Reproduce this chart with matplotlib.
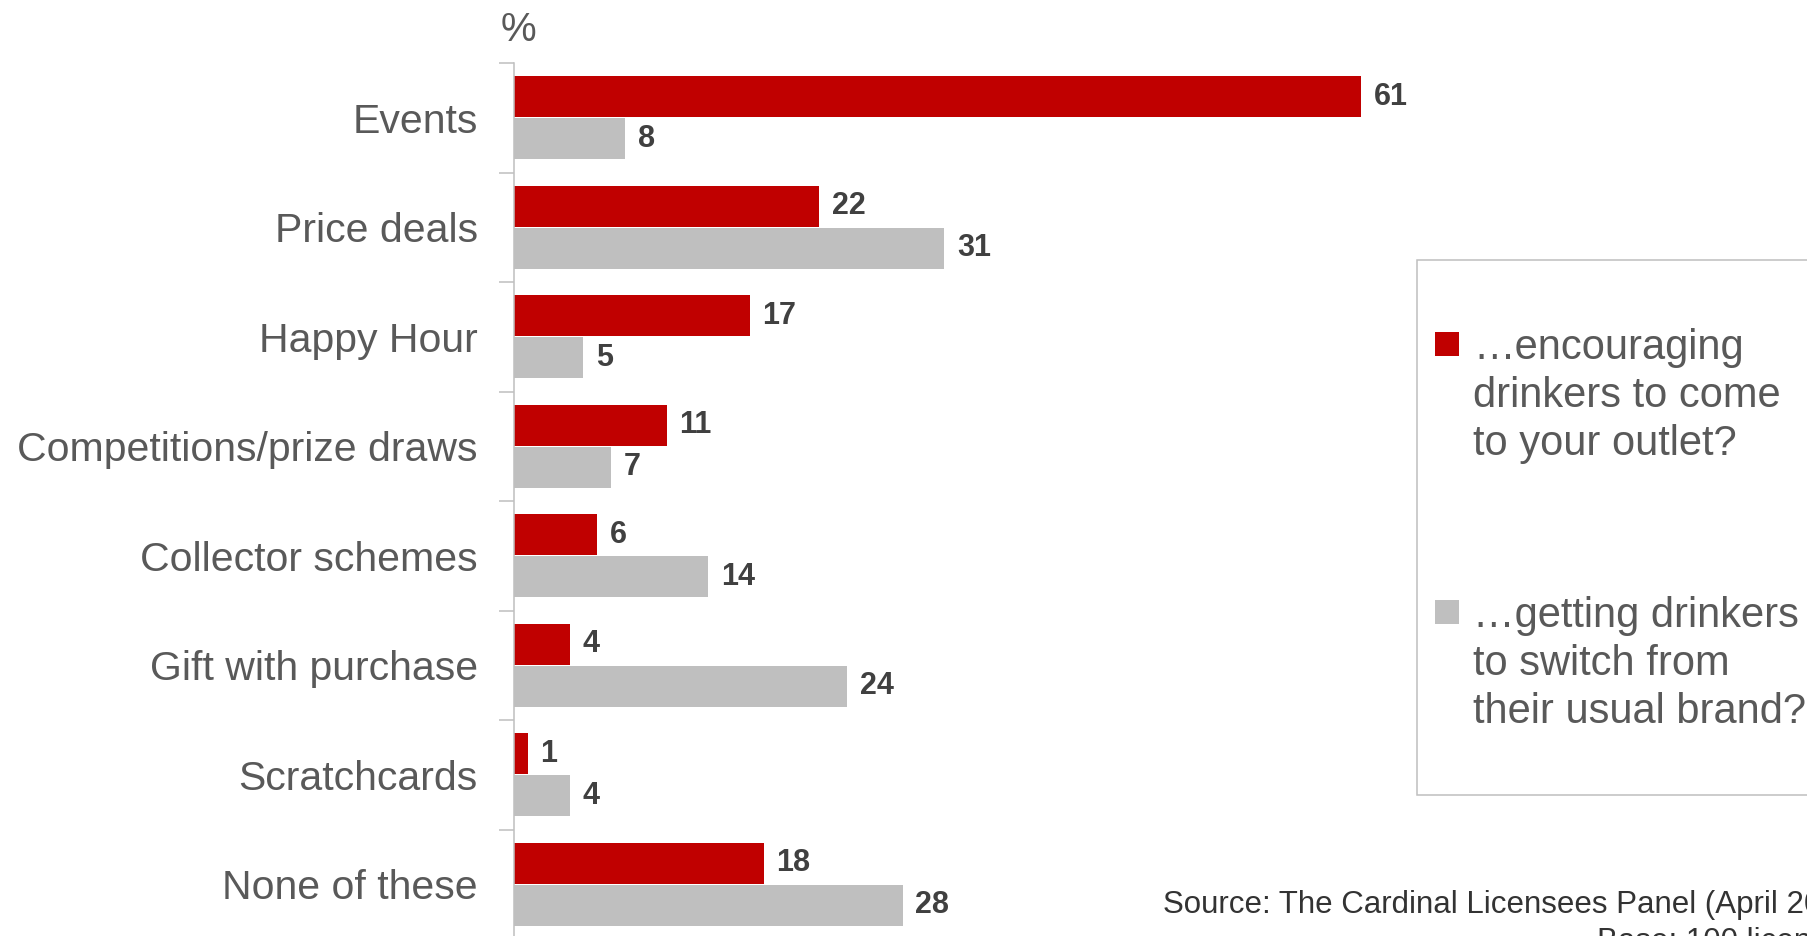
import matplotlib
matplotlib.use("Agg")
import matplotlib.pyplot as plt
from matplotlib.patches import Rectangle
import numpy as np

plt.rcParams['font.family'] = ['Liberation Sans', 'DejaVu Sans']

# data
categories = ["Events", "Price deals", "Happy Hour", "Competitions/prize draws",
              "Collector schemes", "Gift with purchase", "Scratchcards", "None of these"]
encouraging = [61, 22, 17, 11, 6, 4, 1, 18]
switching = [8, 31, 5, 7, 14, 24, 4, 28]
series_labels = ["\u2026encouraging\ndrinkers to come\nto your outlet?",
                 "\u2026getting drinkers\nto switch from\ntheir usual brand?"]
source_lines = ["Source: The Cardinal Licensees Panel (April 2014)",
                "Base: 100 licensees"]

RED = "#C00000"
GREY = "#BFBFBF"
TXT = "#595959"
VAL = "#404040"

W, H = 1807, 936
fig = plt.figure(figsize=(W / 100, H / 100), dpi=100)


def fx(px):
    return px / W


def fy(py):
    return 1 - py / H


# axes: left spine at x=514px, top at y=63px, runs just past the bottom edge
ax = fig.add_axes([fx(514), fy(939), fx(W) - fx(514), fy(63) - fy(939)])

y = np.arange(len(categories))
h = 0.375
b1 = ax.barh(y - 0.19, encouraging, height=h, color=RED)
b2 = ax.barh(y + 0.19, switching, height=h, color=GREY)

ax.bar_label(b1, padding=9, fontsize=22, fontweight="bold", color=VAL)
ax.bar_label(b2, padding=9, fontsize=22, fontweight="bold", color=VAL)

ax.set_xlim(0, 1293 / 13.885)
ax.set_ylim(len(categories) - 0.5, -0.5)

ax.set_yticks(y)
ax.set_yticklabels(categories, fontsize=29.5, color=TXT)
ax.set_yticks(np.arange(-0.5, len(categories)), minor=True)
ax.tick_params(axis="y", which="major", length=0, pad=26)
ax.tick_params(axis="y", which="minor", length=11, width=1.1, color=GREY)
ax.set_xticks([])

for s in ["top", "right", "bottom"]:
    ax.spines[s].set_visible(False)
ax.spines["left"].set_color(GREY)
ax.spines["left"].set_linewidth(1.1)

fig.text(fx(518), fy(30), "%", fontsize=29, color=TXT, ha="center", va="center")

# legend box drawn by hand (marker sits on first line of each label)
fig.add_artist(Rectangle((fx(1417), fy(795)), fx(W + 20) - fx(1417), fy(260) - fy(795),
                         transform=fig.transFigure, facecolor="white",
                         edgecolor=GREY, linewidth=1.1, clip_on=False))
for col, label, top in [(RED, series_labels[0], 344), (GREY, series_labels[1], 612)]:
    fig.add_artist(Rectangle((fx(1435), fy(top + 12)), fx(24), 24 / H,
                             transform=fig.transFigure, facecolor=col,
                             edgecolor="none"))
    fig.text(fx(1473), fy(top + 52), label, fontsize=30, color=TXT,
             ha="left", va="center", linespacing=1.27)

fig.text(fx(1163), fy(913), source_lines[0], fontsize=22.5, color="#333333",
         ha="left", va="baseline")
fig.text(fx(1597), fy(950), source_lines[1], fontsize=22.5, color="#333333",
         ha="left", va="baseline")

fig.savefig("out.png", dpi=100)
